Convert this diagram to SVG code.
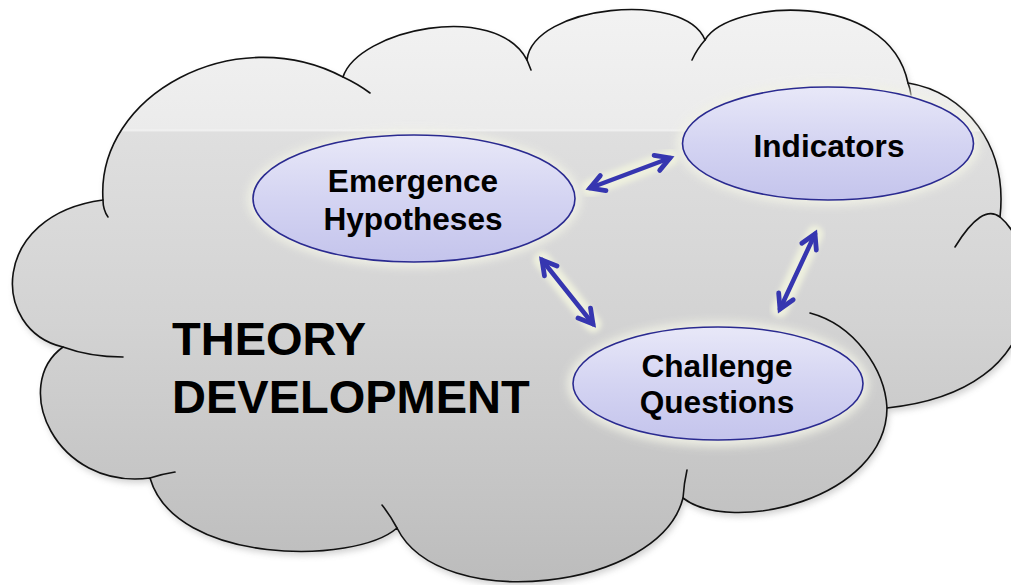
<svg xmlns="http://www.w3.org/2000/svg" width="1011" height="585" viewBox="0 0 1011 585">
<defs>
<style>
.outline{fill:none;stroke:#111;stroke-width:1.6;stroke-linecap:round;stroke-linejoin:round}
.node{stroke:#2a2a90;stroke-width:1.6;fill:url(#nodeGrad)}
.glow{fill:#f1f2e6;opacity:0.85;filter:url(#blur4)}
.lbl{font-family:"Liberation Sans",Arial,sans-serif;font-weight:bold;font-size:31.6px;fill:#000;text-anchor:middle}
.big{font-family:"Liberation Sans",Arial,sans-serif;font-weight:bold;font-size:47px;fill:#000}
.arr{fill:none;stroke:#3636b0;stroke-width:4.5;stroke-linecap:round;marker-start:url(#head);marker-end:url(#head)}
.arrGlow{fill:none;stroke:#eef0de;stroke-width:17;stroke-linecap:round;filter:url(#blur3)}
</style>
<linearGradient id="cloudGrad" gradientUnits="userSpaceOnUse" x1="0" y1="0" x2="0" y2="585">
<stop offset="0" stop-color="#f3f3f3"/>
<stop offset="0.221" stop-color="#ebebeb"/>
<stop offset="0.222" stop-color="#f6f6f6"/>
<stop offset="0.226" stop-color="#dfdfdf"/>
<stop offset="0.55" stop-color="#d3d3d3"/>
<stop offset="1" stop-color="#bcbcbc"/>
</linearGradient>
<linearGradient id="nodeGrad" x1="0" y1="0" x2="0" y2="1">
<stop offset="0" stop-color="#e8e8f8"/>
<stop offset="0.5" stop-color="#d4d4f2"/>
<stop offset="1" stop-color="#c4c4ec"/>
</linearGradient>
<filter id="blur4" x="-20%" y="-20%" width="140%" height="140%"><feGaussianBlur stdDeviation="4"/></filter>
<filter id="blur3" x="-30%" y="-30%" width="160%" height="160%"><feGaussianBlur stdDeviation="2.5"/></filter>
<filter id="shadow" x="-10%" y="-10%" width="120%" height="130%"><feGaussianBlur stdDeviation="3"/></filter>
<marker id="head" markerUnits="userSpaceOnUse" markerWidth="34" markerHeight="34" viewBox="-22 -17 34 34" refX="0" refY="0" orient="auto-start-reverse">
<path d="M-14,-8 L0,0 L-14,8" fill="none" stroke="#3636b0" stroke-width="4.8" stroke-linecap="round" stroke-linejoin="miter"/>
</marker>
</defs>
<rect width="1011" height="585" fill="#ffffff"/>
<g id="cloud">
<path id="cloudShadow" d="M63,347 C-10,330 -10,215 103,200 C96,95 235,20 343,77 C358,30 495,0 527,60 C533,5 685,-10 705,40 C728,0 888,-12 908,83 C965,92 1008,145 1000,217 C1040,250 1060,390 887,408 C886,500 730,535 683,498 C660,590 440,615 397,528 C355,565 175,565 150,478 C55,490 10,385 63,347 Z" fill="#9a9a9a" opacity="0.45" transform="translate(2,4)" filter="url(#shadow)"/>
<path id="cloudBody" d="M63,347 C-10,330 -10,215 103,200 C96,95 235,20 343,77 C358,30 495,0 527,60 C533,5 685,-10 705,40 C728,0 888,-12 908,83 C965,92 1008,145 1000,217 C1040,250 1060,390 887,408 C886,500 730,535 683,498 C660,590 440,615 397,528 C355,565 175,565 150,478 C55,490 10,385 63,347 Z" fill="url(#cloudGrad)" stroke="#111" stroke-width="1.6" stroke-linejoin="round"/>
<path class="outline" d="M103,200 Q103,210 108,217"/>
<path class="outline" d="M343,77 Q358,84 370,93"/>
<path class="outline" d="M527,60 Q529,65 531,70"/>
<path class="outline" d="M705,40 Q697,49 692,60"/>
<path class="outline" d="M908,83 Q910,88 911,95"/>
<path class="outline" d="M1000,217 Q982,203 955,247"/>
<path class="outline" d="M887,408 C885,370 855,325 810,313"/>
<path class="outline" d="M683,498 Q684,483 687,470"/>
<path class="outline" d="M397,528 Q390,515 382,505"/>
<path class="outline" d="M150,478 Q162,474 175,472"/>
<path class="outline" d="M63,347 Q90,357 123,357"/>
<text class="big" x="172" y="355">THEORY</text>
<text class="big" x="172" y="413">DEVELOPMENT</text>
</g>
<g id="connectors">
<line class="arrGlow" x1="590" y1="188" x2="670" y2="158"/>
<line class="arrGlow" x1="542" y1="260" x2="593" y2="324"/>
<line class="arrGlow" x1="815" y1="234" x2="780" y2="309"/>
<line class="arr" x1="590" y1="188" x2="670" y2="158"/>
<line class="arr" x1="542" y1="260" x2="593" y2="324"/>
<line class="arr" x1="815" y1="234" x2="780" y2="309"/>
</g>
<g id="node-emergence">
<ellipse class="glow" cx="414" cy="199" rx="167" ry="69"/>
<ellipse class="node" cx="414" cy="198.5" rx="161" ry="63.5"/>
<text class="lbl" x="413" y="192">Emergence</text>
<text class="lbl" x="413" y="230">Hypotheses</text>
</g>
<g id="node-indicators">
<ellipse class="glow" cx="828" cy="144" rx="152" ry="62"/>
<ellipse class="node" cx="828" cy="143.5" rx="145.5" ry="56.5"/>
<text class="lbl" x="829" y="157">Indicators</text>
</g>
<g id="node-challenge">
<ellipse class="glow" cx="718" cy="384" rx="151" ry="63"/>
<ellipse class="node" cx="718" cy="383.5" rx="145" ry="56.5"/>
<text class="lbl" x="717" y="377">Challenge</text>
<text class="lbl" x="717" y="413">Questions</text>
</g>
</svg>
